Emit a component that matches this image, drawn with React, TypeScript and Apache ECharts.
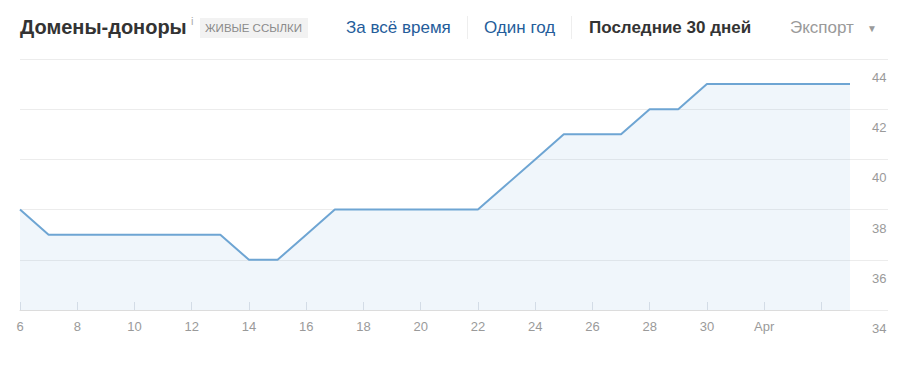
import React, { useEffect, useRef } from "react";
import * as echarts from "echarts";

const categories = [
  "6", "7", "8", "9", "10", "11", "12", "13", "14", "15", "16", "17", "18", "19", "20",
  "21", "22", "23", "24", "25", "26", "27", "28", "29", "30", "31", "Apr", "2", "3", "4",
];
const referringDomains = [
  38, 37, 37, 37, 37, 37, 37, 37, 36, 36, 37, 38, 38, 38, 38,
  38, 38, 39, 40, 41, 41, 41, 42, 42, 43, 43, 43, 43, 43, 43,
];
const hiddenLabelIndex = 28;
const titleText = "Домены-доноры";
const badgeText = "ЖИВЫЕ ССЫЛКИ";
const periodLinks = ["За всё время", "Один год"];
const activePeriod = "Последние 30 дней";
const exportText = "Экспорт";

const FONT = "'Liberation Sans', Arial, sans-serif";

export default function App() {
  const ref = useRef<HTMLDivElement>(null);
  useEffect(() => {
    if (!ref.current) return;
    const chart = echarts.init(ref.current, undefined, { renderer: "svg" });
    const ty = 29;
    chart.setOption({
      animation: false,
      textStyle: { fontFamily: FONT },
      grid: { left: 20, right: 50, top: 59, bottom: 57, containLabel: false },
      xAxis: {
        type: "category",
        data: categories,
        boundaryGap: false,
        axisLine: { lineStyle: { color: "#dcdcdc", width: 1 } },
        axisTick: { show: true, inside: true, length: 8, interval: 1, lineStyle: { color: "#dfe3e8" } },
        axisLabel: {
          interval: 1,
          color: "#9a9a9a",
          fontSize: 13,
          margin: 10,
          formatter: (v: string, i: number) => (i === hiddenLabelIndex ? "" : v),
        },
        splitLine: { show: false },
      },
      yAxis: {
        type: "value",
        position: "right",
        min: 34,
        max: 44,
        interval: 2,
        axisLine: { show: false },
        axisTick: { show: true, inside: false, length: 38, lineStyle: { color: "#ececec" } },
        axisLabel: {
          color: "#9a9a9a",
          fontSize: 13,
          margin: 22,
          align: "left",
          verticalAlign: "top",
          padding: [12, 0, 0, 0],
        },
        splitLine: { show: true, lineStyle: { color: "#ececec" } },
      },
      series: [
        {
          type: "line",
          data: referringDomains,
          symbol: "none",
          lineStyle: { color: "#6ea5d3", width: 2 },
          areaStyle: { color: "#6ea5d3", opacity: 0.1 },
        },
      ],
      graphic: [
        { type: "text", left: 20, top: ty - 12, style: { text: titleText, font: `bold 20px ${FONT}`, fill: "#333" } },
        { type: "text", left: 191, top: 15, style: { text: "i", font: `11px ${FONT}`, fill: "#aaa" } },
        { type: "rect", shape: { x: 200, y: 18, width: 108, height: 20 }, style: { fill: "#f2f2f2" } },
        { type: "text", left: 205, top: 22, style: { text: badgeText, font: `11.5px ${FONT}`, fill: "#8a8a8a" } },
        { type: "text", left: 346, top: ty - 10, style: { text: periodLinks[0], font: `17px ${FONT}`, fill: "#245c9a" } },
        { type: "line", shape: { x1: 467.5, y1: 16, x2: 467.5, y2: 39 }, style: { stroke: "#eeeeee", lineWidth: 1 } },
        { type: "text", left: 484, top: ty - 10, style: { text: periodLinks[1], font: `17px ${FONT}`, fill: "#245c9a" } },
        { type: "line", shape: { x1: 571.5, y1: 16, x2: 571.5, y2: 39 }, style: { stroke: "#eeeeee", lineWidth: 1 } },
        { type: "text", left: 589, top: ty - 10, style: { text: activePeriod, font: `bold 17px ${FONT}`, fill: "#333" } },
        { type: "text", left: 790, top: ty - 10, style: { text: exportText, font: `17px ${FONT}`, fill: "#9a9a9a" } },
        { type: "text", left: 867, top: ty - 6, style: { text: "▼", font: `10px ${FONT}`, fill: "#9a9a9a" } },
      ],
    });
    return () => chart.dispose();
  }, []);
  return (
    <div style={{ position: "absolute", left: 0, top: 0, width: 900, height: 367, background: "#fff" }}>
      <div ref={ref} style={{ width: 900, height: 367 }} />
    </div>
  );
}
